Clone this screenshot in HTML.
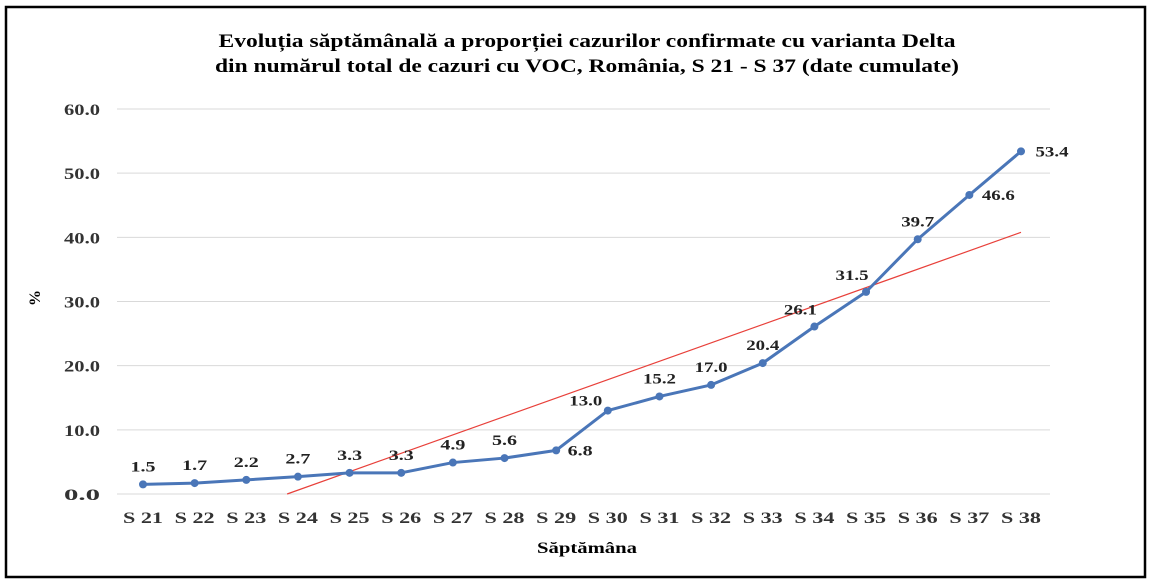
<!DOCTYPE html>
<html><head><meta charset="utf-8"><style>
html,body{margin:0;padding:0;background:#fff;}
svg{display:block;font-family:"Liberation Serif",serif;font-weight:bold;}
</style></head><body>
<svg id="c" width="1151" height="584" xmlns="http://www.w3.org/2000/svg">
<rect x="6" y="7" width="1139" height="570" fill="#fff" stroke="#000" stroke-width="2.5"/>
<text x="587" y="47" text-anchor="middle" font-size="19" textLength="737" lengthAdjust="spacingAndGlyphs" fill="#000">Evoluția săptămânală a proporției cazurilor confirmate cu varianta Delta</text>
<text x="587" y="72" text-anchor="middle" font-size="19" textLength="744" lengthAdjust="spacingAndGlyphs" fill="#000">din numărul total de cazuri cu VOC, România, S 21 - S 37 (date cumulate)</text>
<text x="40" y="298" text-anchor="middle" font-size="16" transform="rotate(-90 40 298)">%</text>
<text x="587" y="553" text-anchor="middle" font-size="16" textLength="100" lengthAdjust="spacingAndGlyphs">Săptămâna</text>
<g id="grid"></g><g id="trend"></g><g id="series"></g><g id="labels"></g>
</svg>
<script>
const categories=["S 21","S 22","S 23","S 24","S 25","S 26","S 27","S 28","S 29","S 30","S 31","S 32","S 33","S 34","S 35","S 36","S 37","S 38"];
const values=[1.5,1.7,2.2,2.7,3.3,3.3,4.9,5.6,6.8,13.0,15.2,17.0,20.4,26.1,31.5,39.7,46.6,53.4];
const yTicks=[0,10,20,30,40,50,60];
const NS="http://www.w3.org/2000/svg";
const x=i=>143+i*(1021-143)/17;
const y=v=>494-v*(494-109)/60;
function mk(t,a,p){const e=document.createElementNS(NS,t);for(const k in a)e.setAttribute(k,a[k]);p.appendChild(e);return e;}
const grid=document.getElementById('grid');
yTicks.forEach(t=>{
  const l=mk('line',{x1:117,x2:1050,y1:y(t),y2:y(t),stroke:'#d9d9d9','stroke-width':1},grid);
  
  
  const tx=mk('text',{x:100,y:y(t)+6,'text-anchor':'end','font-size':16,textLength:36,lengthAdjust:'spacingAndGlyphs',fill:'#333'},grid);
  tx.textContent=t.toFixed(1);
  
  
});
categories.forEach((c,i)=>{
  const tx=mk('text',{x:x(i),y:523,'text-anchor':'middle','font-size':16,textLength:40,lengthAdjust:'spacingAndGlyphs',fill:'#333'},grid);
  tx.textContent=c;
  
  
});
const n=values.length;let mx=(n-1)/2,my=values.reduce((a,b)=>a+b)/n,sxy=0,sxx=0;
values.forEach((v,i)=>{sxy+=(i-mx)*(v-my);sxx+=(i-mx)*(i-mx);});
const sl=sxy/sxx,ic=my-sl*mx;const x0=Math.max(0,-ic/sl);
const tl=mk('line',{x1:x(x0),y1:y(ic+sl*x0),x2:x(n-1),y2:y(ic+sl*(n-1)),stroke:'#e8403a','stroke-width':1.2},document.getElementById('trend'));


const s=document.getElementById('series');
const pl=mk('polyline',{points:values.map((v,i)=>x(i)+','+y(v)).join(' '),fill:'none',stroke:'#4a76b8','stroke-width':3,'stroke-linejoin':'round'},s);


const lab=document.getElementById('labels');
const off={8:[24,5],9:[-22,-5],13:[-14,-12],14:[-14,-12],16:[29,5],17:[31,5]};
values.forEach((v,i)=>{
  const p=mk('circle',{cx:x(i),cy:y(v),r:4,fill:'#4a76b8'},s);
  
  
  const o=off[i]||[0,-13];
  const t=mk('text',{x:x(i)+o[0],y:y(v)+o[1],'text-anchor':'middle','font-size':15,textLength:v>=10?33:25,lengthAdjust:'spacingAndGlyphs',fill:'#222'},lab);
  t.textContent=v.toFixed(1);
  
  
});
</script>
</body></html>
